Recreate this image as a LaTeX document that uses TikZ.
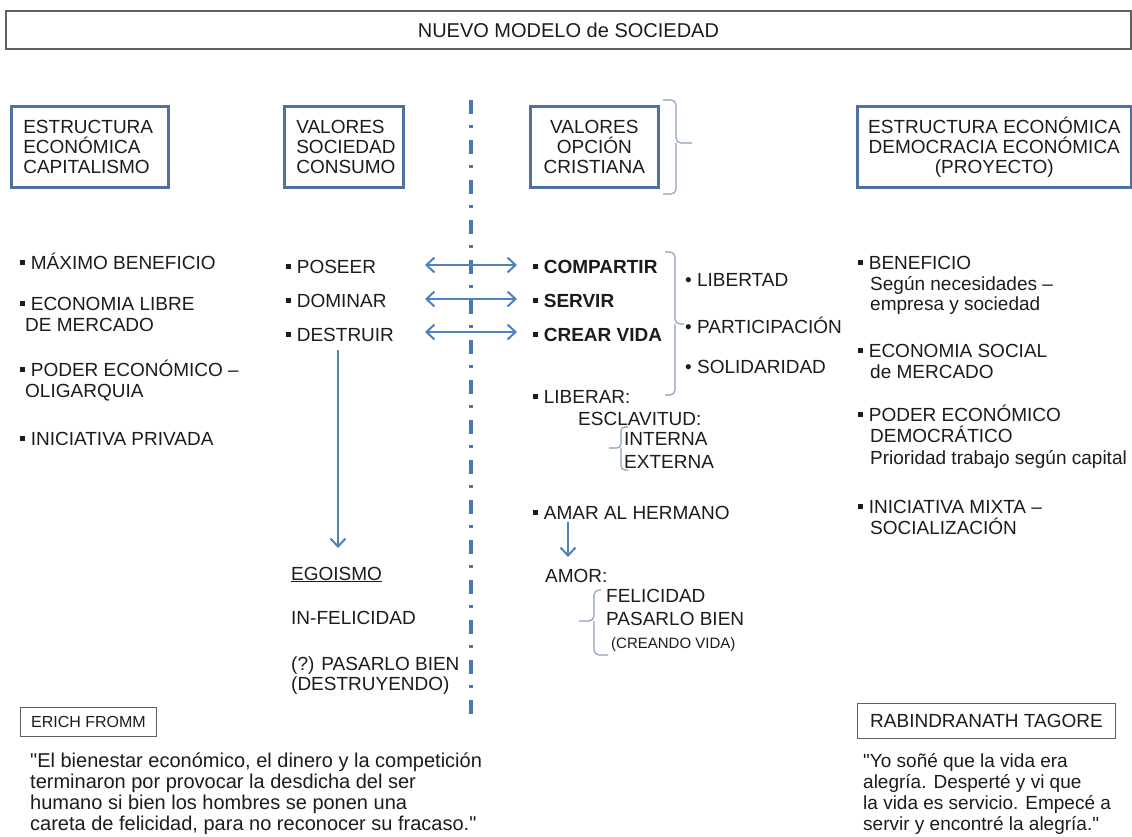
\documentclass[tikz,border=0pt]{standalone}
\usepackage{fontspec}
\setmainfont{Liberation Sans}
\newfontfamily\plainqf{Liberation Sans}
\usetikzlibrary{arrows.meta}
\definecolor{boxblue}{RGB}{76,114,163}
\definecolor{arrc}{RGB}{79,129,189}
\definecolor{dashc}{RGB}{74,118,178}
\definecolor{bracec}{RGB}{140,160,192}
\definecolor{txtc}{RGB}{28,28,28}
\definecolor{grayb}{RGB}{95,95,95}
\newcommand{\fs}{\fontsize{19}{20.5}\selectfont}
\newcommand{\sqb}{\raisebox{0.22em}{\rule{0.26em}{0.26em}}\hspace{0.3em}}
\newcommand{\dq}{{\plainqf\char34}}
\begin{document}
\begin{tikzpicture}[x=1pt,y=-1pt,
  txt/.style={anchor=base west,inner sep=0pt,text=txtc,font=\fs},
  qtxt/.style={txt,font=\fontsize{20}{22}\selectfont},
  bx/.style={draw=boxblue,line width=2.6pt,inner sep=0pt,anchor=north west,text=txtc,
    font=\fontsize{19}{20}\selectfont},
  gbx/.style={draw=grayb,line width=1pt,inner sep=0pt,anchor=north west,text=txtc,font=\fs},
  ar/.style={draw=arrc,line width=2pt,>={Straight Barb[length=8pt,width=15pt]}},
  brc/.style={draw=bracec,line width=1.2pt,rounded corners=5pt},
  dashln/.style={draw=dashc,line width=3.4pt,dash pattern=on 14pt off 11pt on 3pt off 12pt}
]
\useasboundingbox[fill=white] (0,0) rectangle (1132,836);

% title
\node[draw=grayb,line width=1.8pt,anchor=north west,minimum width=1125pt,minimum height=38pt,
  inner sep=0pt,font=\fontsize{20}{22}\selectfont,text=txtc] (title) at (5,10) {NUEVO MODELO de SOCIEDAD};

% header boxes
\node[bx,minimum width=157pt,minimum height=81pt,text width=133pt,align=left] (b1) at (10,105)
  {ESTRUCTURA\\ECONÓMICA\\CAPITALISMO};
\node[bx,minimum width=119pt,minimum height=81pt,text width=95pt,align=left] (b2) at (283,105)
  {VALORES\\SOCIEDAD\\CONSUMO};
\node[bx,minimum width=128pt,minimum height=81pt,align=center] (b3) at (529,105)
  {VALORES\\OPCIÓN\\CRISTIANA};
\node[bx,minimum width=274pt,minimum height=81pt,align=center] (b4) at (856,105)
  {ESTRUCTURA ECONÓMICA\\DEMOCRACIA ECONÓMICA\\(PROYECTO)};

% brace next to box 3
\draw[brc] (663,100) -- (676,100) -- (676,143) -- (692,143);
\draw[brc] (663,194) -- (676,194) -- (676,143);

% divider
\coordinate (dtop) at (471,100);
\coordinate (dbot) at (471,716);
\draw[dashln] (dtop) -- (dbot);

% left column
\node[txt] (l1) at (20,269) {\sqb MÁXIMO BENEFICIO};
\node[txt] (l2) at (20,310) {\sqb ECONOMIA LIBRE};
\node[txt] (l2b) at (25,331) {DE MERCADO};
\node[txt] (l3) at (20,376) {\sqb PODER ECONÓMICO –};
\node[txt] (l3b) at (25,397) {OLIGARQUIA};
\node[txt] (l4) at (20,445) {\sqb INICIATIVA PRIVADA};

% column 2
\node[txt] (poseer) at (286,273) {\sqb POSEER};
\node[txt] (dominar) at (286,307) {\sqb DOMINAR};
\node[txt] (destruir) at (286,341) {\sqb DESTRUIR};
\node[txt] (ego) at (291,580) {\underline{EGOISMO}};
\node[txt] (infel) at (291,624) {IN-FELICIDAD};
\node[txt] (pasd) at (291,670) {(?) PASARLO BIEN};
\node[txt] (destr) at (291,690) {(DESTRUYENDO)};

% column 3
\node[txt,font=\fs\bfseries] (compartir) at (533,273) {\sqb COMPARTIR};
\node[txt,font=\fs\bfseries] (servir) at (533,307) {\sqb SERVIR};
\node[txt,font=\fs\bfseries] (crear) at (533,341) {\sqb CREAR VIDA};
\node[txt] (libertad) at (685,286) {• LIBERTAD};
\node[txt] (particip) at (685,333) {• PARTICIPACIÓN};
\node[txt] (solid) at (685,373) {• SOLIDARIDAD};
\draw[brc] (665,252) -- (675,252) -- (675,324) -- (684,324);
\draw[brc] (665,395) -- (675,395) -- (675,324);
\node[txt] (liberar) at (533,403) {\sqb LIBERAR:};
\node[txt] (escl) at (578,425) {ESCLAVITUD:};
\node[txt] (interna) at (624,445) {INTERNA};
\node[txt] (externa) at (624,468) {EXTERNA};
\draw[brc,rounded corners=4pt] (628,427) -- (621,427) -- (621,448) -- (609,448);
\draw[brc,rounded corners=4pt] (628,470) -- (621,470) -- (621,448);
\node[txt] (amar) at (533,519) {\sqb AMAR AL HERMANO};
\node[txt] (amor) at (545,582) {AMOR:};
\node[txt] (felic) at (606,602) {FELICIDAD};
\node[txt] (pasb) at (606,625) {PASARLO BIEN};
\node[txt,font=\fontsize{15}{17}\selectfont] (creando) at (611,648) {(CREANDO VIDA)};
\draw[brc] (601,590) -- (594,590) -- (594,621) -- (579,621);
\draw[brc] (608,655) -- (594,655) -- (594,621);

% arrows
\coordinate (a1l) at (425,265); \coordinate (a1r) at (517,265);
\coordinate (a2l) at (425,299); \coordinate (a2r) at (517,299);
\coordinate (a3l) at (425,332); \coordinate (a3r) at (517,332);
\draw[ar,<->] (a1l) -- (a1r);
\draw[ar,<->] (a2l) -- (a2r);
\draw[ar,<->] (a3l) -- (a3r);
\coordinate (d1) at (338,350); \coordinate (d2) at (338,548);
\draw[ar,->] (d1) -- (d2);
\coordinate (h1) at (568,522); \coordinate (h2) at (568,557);
\draw[ar,->] (h1) -- (h2);

% right column
\node[txt] (r1) at (858,269) {\sqb BENEFICIO};
\node[txt] (r1b) at (870,290) {Según necesidades –};
\node[txt] (r1c) at (870,310) {empresa y sociedad};
\node[txt] (r2) at (858,357) {\sqb ECONOMIA SOCIAL};
\node[txt] (r2b) at (870,378) {de MERCADO};
\node[txt] (r3) at (858,421) {\sqb PODER ECONÓMICO};
\node[txt] (r3b) at (870,442) {DEMOCRÁTICO};
\node[txt] (r3c) at (870,464) {Prioridad trabajo según capital};
\node[txt] (r4) at (858,513) {\sqb INICIATIVA MIXTA –};
\node[txt] (r4b) at (870,534) {SOCIALIZACIÓN};

% bottom quotes
\node[gbx,minimum width=136pt,minimum height=29pt,font=\fontsize{16}{18}\selectfont] (fromm) at (20,707) {ERICH FROMM};
\node[gbx,minimum width=258pt,minimum height=35pt] (tagore) at (857,703) {RABINDRANATH TAGORE};
\node[qtxt] (f1) at (30,767) {\dq El bienestar económico, el dinero y la competición};
\node[qtxt] (f2) at (30,788) {terminaron por provocar la desdicha del ser};
\node[qtxt] (f3) at (30,809) {humano si bien los hombres se ponen una};
\node[qtxt] (f4) at (30,830) {careta de felicidad, para no reconocer su fracaso.\dq};
\node[txt] (t1) at (863,767) {\dq Yo soñé que la vida era};
\node[txt] (t2) at (863,788) {alegría. Desperté y vi que};
\node[txt] (t3) at (863,809) {la vida es servicio. Empecé a};
\node[txt] (t4) at (863,830) {servir y encontré la alegría.\dq};
\end{tikzpicture}
\end{document}
